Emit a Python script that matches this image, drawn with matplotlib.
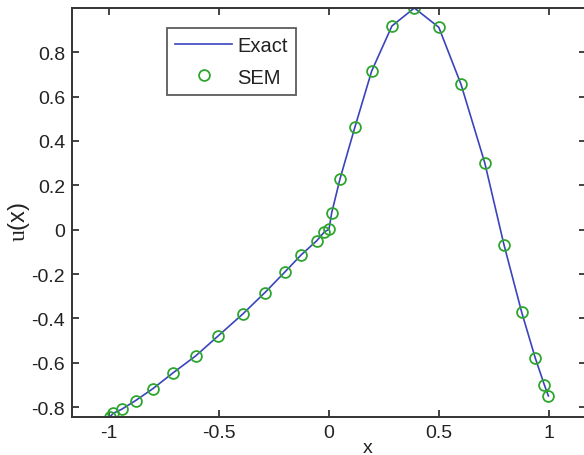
import numpy as np
import matplotlib
matplotlib.use("Agg")
import matplotlib.pyplot as plt

plt.rcParams['font.family'] = ['Liberation Sans', 'DejaVu Sans']
plt.rcParams['mathtext.fontset'] = 'custom'
plt.rcParams['mathtext.rm'] = 'Liberation Serif'

# spectral element nodes on [-1, 0] and [0, 1]
x_nodes = [-0.997, -0.980, -0.942, -0.879, -0.800, -0.710, -0.605, -0.503,
           -0.392, -0.291, -0.200, -0.126, -0.056, -0.021, 0.000,
           0.012, 0.050, 0.118, 0.194, 0.286, 0.388, 0.499, 0.600,
           0.708, 0.795, 0.876, 0.938, 0.979, 0.997]
u_sem = [-0.844, -0.827, -0.809, -0.770, -0.716, -0.646, -0.568, -0.478,
         -0.380, -0.283, -0.190, -0.113, -0.050, -0.010, 0.002,
         0.075, 0.229, 0.463, 0.715, 0.918, 0.999, 0.912, 0.655,
         0.301, -0.067, -0.373, -0.580, -0.700, -0.749]
u_exact = list(u_sem)

xticks = [-1, -0.5, 0, 0.5, 1]
yticks = [-0.8, -0.6, -0.4, -0.2, 0, 0.2, 0.4, 0.6, 0.8]
ytick_labels = ['-0.8', '-0.6', '-0.4', '-0.2', '0', '0.2', '0.4', '0.6', '0.8']

fig = plt.figure(figsize=(5.84, 4.56), dpi=100)
ax = fig.add_axes([72/584, 38/456, 514/584, 409/456])

ax.plot(x_nodes, u_exact, color='#3a44bc', lw=1.2, label='Exact')
ax.plot(x_nodes, u_sem, 'o', mfc='none', mec='#2ea62e', ms=7.8, mew=1.3,
        label='SEM')

ax.set_xlim(-1.168, 1.168)
ax.set_ylim(-0.844, 0.999)
ax.set_xticks(xticks)
ax.set_xticklabels(['-1', '-0.5', '0', '0.5', '1'])
ax.set_yticks(yticks)
ax.set_yticklabels(ytick_labels)
ax.tick_params(direction='in', length=5, width=1.2, top=True, right=True,
               labelsize=14, colors='#222222', pad=5)
for s in ax.spines.values():
    s.set_color('#333333')
    s.set_linewidth(1.4)

ax.set_xlabel('x', fontsize=14, color='#222222')
ax.xaxis.set_label_coords(0.576, -0.055)
ax.set_ylabel(r'$\mathrm{u}$(x)', fontsize=17, color='#222222')
ax.yaxis.set_label_coords(-0.078, 0.48)

leg = ax.legend(loc='upper left', bbox_to_anchor=(167/584, 1 - 29/456),
                bbox_transform=fig.transFigure, fontsize=14.5, frameon=True,
                fancybox=False, edgecolor='#333333', borderaxespad=0,
                handlelength=2.8, handletextpad=0.25, borderpad=0.42,
                labelspacing=0.6)
leg.get_frame().set_linewidth(1.3)
for t in leg.get_texts():
    t.set_color('#222222')

fig.savefig('out.png', dpi=100)
